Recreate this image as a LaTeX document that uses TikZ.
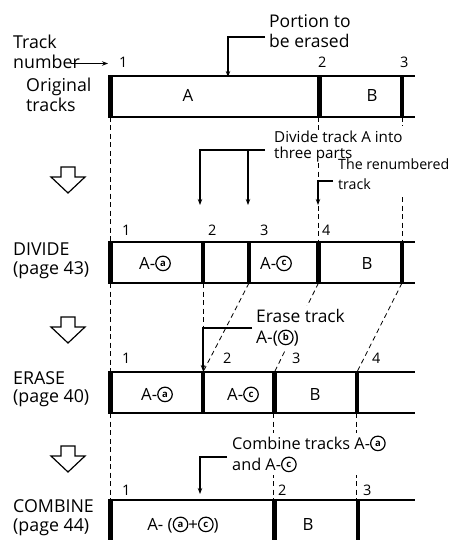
\documentclass[tikz,border=0pt]{standalone}
\usepackage{fontspec}
\setmainfont{Open Sans}
\usetikzlibrary{arrows.meta}
\newcommand\cltr[1]{\tikz[x=1cm,y=1cm,baseline={([yshift=-5.6pt]cc.center)}]\node[draw,circle,line width=1.2pt,inner sep=0pt,minimum size=14.5pt,fill=none,anchor=center,font=\fontsize{9.5}{9.5}\selectfont\bfseries](cc){#1};}
\begin{document}
\begin{tikzpicture}[x=1pt,y=-1pt,
  box/.style={line width=1.4pt},
  bar/.style={line width=4.5pt},
  guide/.style={line width=0.8pt,dash pattern=on 5pt off 3.5pt},
  tip/.style={line width=1.1pt,-{Stealth[length=6pt,width=4.5pt]}},
  lbl/.style={anchor=base west,inner sep=0pt,font=\fontsize{17.8}{20}\selectfont},
  num/.style={anchor=base west,inner sep=0pt,font=\fontsize{14.5}{17}\selectfont},
  intrack/.style={anchor=base,inner sep=0pt,font=\fontsize{16.8}{20}\selectfont},
  note/.style={anchor=base west,align=left,inner xsep=3pt,inner ysep=3pt},
  hollow/.style={line width=1.2pt,line join=miter}]
\useasboundingbox (0,0) rectangle (455,540);
\clip (0,0) rectangle (455,540);

% ---------- dashed guides ----------
\draw[guide] (110.5,117) -- (110.5,242);
\draw[guide] (318,117) -- (318,130);
\draw[guide] (318,163) -- (318,242);
\draw[guide] (402,117) -- (402,126);
\draw[guide] (402,197) -- (402,242);
\draw[guide] (110.5,283) -- (110.5,372);
\draw[guide] (203,283) -- (203,372);
\draw[guide] (249,283) -- (203,372);
\draw[guide] (318.5,283) -- (274.5,372);
\draw[guide] (402,283) -- (357,372);
\draw[guide] (110.5,413) -- (110.5,500);
\draw[guide] (273,413) -- (273,500);
\draw[guide] (356.5,413) -- (356.5,500);

% ---------- notes (anchor = baseline of last line) ----------
\node[note,font=\fontsize{17.5}{20}\selectfont] (por) at (266,48) {Portion to\\be erased};
\node[note,font=\fontsize{15.2}{15.5}\selectfont] (div) at (271,158) {Divide track A into\\three parts};
\node[note,font=\fontsize{14.2}{20}\selectfont] (ren) at (335,189) {The renumbered\\track};
\node[note,fill=white,font=\fontsize{17.4}{21}\selectfont] (era) at (253,343) {Erase track\\A-(\cltr{b})};
\node[note,fill=white,font=\fontsize{16.3}{21}\selectfont] (com) at (229,470) {Combine tracks A-\cltr{a}\\and A-\cltr{c}};

% ---------- left labels ----------
\node[lbl] (trk) at (13,49) {Track};
\node[lbl] (nbr) at (13,69) {number};
\node[lbl] (org) at (26,92) {Original};
\node[lbl] (orgt) at (26,112) {tracks};
\node[lbl] (dv1) at (13,255.5) {DIVIDE};
\node[lbl] (dv2) at (13,274) {(page 43)};
\node[lbl] (er1) at (13,384.5) {ERASE};
\node[lbl] (er2) at (13,402.5) {(page 40)};
\node[lbl] (cb1) at (13,512.5) {COMBINE};
\node[lbl] (cb2) at (13,531) {(page 44)};
\coordinate (nbrA) at (71,63.5);
\coordinate (nbrB) at (108,63.5);
\draw[tip] (nbrA) -- (nbrB);

% ---------- hollow step arrows ----------
\foreach \t in {167,317,446}{
  \draw[hollow] (61,\t) -- (75,\t) -- (75,\t+10) -- (85,\t+10) -- (68,\t+26)
    -- (51,\t+10) -- (61,\t+10) -- cycle;
}

% ---------- row 1 ----------
\draw[box] (110.5,76) -- (415,76);
\draw[box] (110.5,117) -- (415,117);
\foreach \x in {110.5,319.5,402} \draw[bar] (\x,75.3) -- (\x,117.7);
\node[num] (r1n1) at (119,68) {1};
\node[num] (r1n2) at (318,68) {2};
\node[num] (r1n3) at (400,68) {3};
\node[intrack] (r1a) at (188,102) {A};
\node[intrack] (r1b) at (372,102) {B};

% ---------- row 2 ----------
\draw[box] (110.5,242) -- (415,242);
\draw[box] (110.5,283) -- (415,283);
\foreach \x in {110.5,203,249,318.5,402} \draw[bar] (\x,241.3) -- (\x,283.7);
\node[num] (r2n1) at (122,235) {1};
\node[num] (r2n2) at (208,235) {2};
\node[num] (r2n3) at (260,235) {3};
\node[num] (r2n4) at (322,235) {4};
\node[intrack] (r2a) at (155,269) {A-\cltr{a}};
\node[intrack] (r2c) at (276,269) {A-\cltr{c}};
\node[intrack] (r2b) at (367,269) {B};

% ---------- row 3 ----------
\draw[box] (110.5,372) -- (415,372);
\draw[box] (110.5,413) -- (415,413);
\foreach \x in {110.5,203,274.5,357} \draw[bar] (\x,371.3) -- (\x,413.7);
\node[num] (r3n1) at (122,363) {1};
\node[num] (r3n2) at (223,363) {2};
\node[num] (r3n3) at (292,363) {3};
\node[num] (r3n4) at (372,363) {4};
\node[intrack] (r3a) at (157,400) {A-\cltr{a}};
\node[intrack] (r3c) at (243,400) {A-\cltr{c}};
\node[intrack] (r3b) at (315,400) {B};

% ---------- row 4 ----------
\draw[box] (110.5,500) -- (415,500);
\foreach \x in {110.5,274.5,358} \draw[bar] (\x,499.3) -- (\x,545);
\node[num] (r4n1) at (122,495) {1};
\node[num] (r4n2) at (278,495) {2};
\node[num] (r4n3) at (363,495) {3};
\node[intrack] (r4a) at (183,530) {A- (\cltr{a}+\cltr{c})};
\node[intrack] (r4b) at (308,530) {B};

% ---------- leaders ----------
\coordinate (pa) at (265,37); \coordinate (pb) at (228,37); \coordinate (pc) at (228,77);
\draw[tip] (pa) -- (pb) -- (pc);
\coordinate (da) at (265,150); \coordinate (db) at (200,150); \coordinate (dc) at (200,205);
\coordinate (dd) at (248,150); \coordinate (de) at (248,205);
\draw[tip] (da) -- (db) -- (dc);
\draw[tip] (dd) -- (de);
\coordinate (ra) at (333,181); \coordinate (rb) at (318,181); \coordinate (rc) at (318,205);
\draw[tip] (ra) -- (rb) -- (rc);
\coordinate (ea) at (252,328); \coordinate (eb) at (203,328); \coordinate (ec) at (203,371);
\draw[tip] (ea) -- (eb) -- (ec);
\coordinate (ca) at (227,457); \coordinate (cb) at (200,457); \coordinate (cd) at (200,494);
\draw[tip] (ca) -- (cb) -- (cd);
\end{tikzpicture}
\end{document}
